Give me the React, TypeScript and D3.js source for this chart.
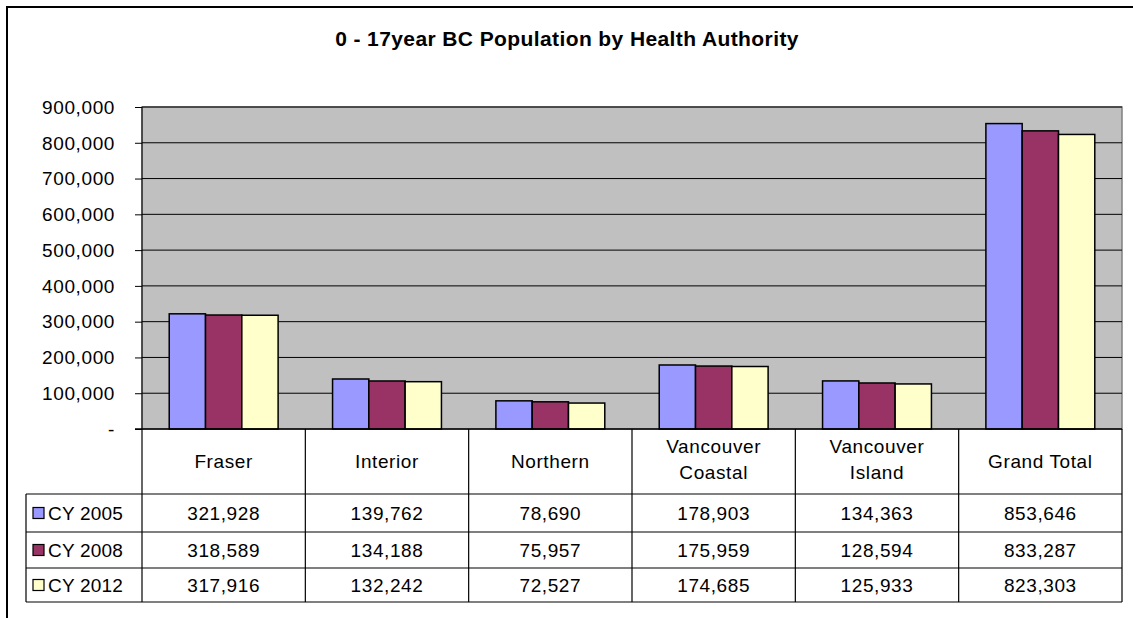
import { useEffect, useRef } from "react";
import * as d3 from "d3";

const categories = ["Fraser", "Interior", "Northern", "Vancouver Coastal", "Vancouver Island", "Grand Total"];
const categoryLines = [["Fraser"], ["Interior"], ["Northern"], ["Vancouver", "Coastal"], ["Vancouver", "Island"], ["Grand Total"]];
const seriesNames = ["CY 2005", "CY 2008", "CY 2012"];
const cy2005 = [321928, 139762, 78690, 178903, 134363, 853646];
const cy2008 = [318589, 134188, 75957, 175959, 128594, 833287];
const cy2012 = [317916, 132242, 72527, 174685, 125933, 823303];
const yTicks = [0, 100000, 200000, 300000, 400000, 500000, 600000, 700000, 800000, 900000];
const colors = ["#9999FF", "#993366", "#FFFFCC"];

const drawChart = (svgEl: SVGSVGElement) => {
  const width = 1133;
  const height = 618;
  const marginLeft = 142;
  const marginRight = 11;
  const plotTop = 107;
  const plotBottom = 429;
  const headerBottom = 494;
  const rowBottoms = [532, 568, 602];
  const tableLeft = 26;
  const font = "'Liberation Sans', Arial, sans-serif";
  const fs = 19;
  const ls = 0.6;
  const series = [cy2005, cy2008, cy2012];

  const svg = d3.select(svgEl);
  svg.selectAll("*").remove();
  svg.attr("width", width).attr("height", height).attr("viewBox", [0, 0, width, height]);

  svg.append("rect").attr("width", width).attr("height", height).attr("fill", "#fff");

  // outer frame (right and bottom edges fall outside the picture)
  svg.append("rect")
    .attr("x", 7).attr("y", 7)
    .attr("width", width + 20).attr("height", height + 20)
    .attr("fill", "none").attr("stroke", "#000").attr("stroke-width", 2);

  svg.append("text")
    .attr("x", 567).attr("y", 46)
    .attr("text-anchor", "middle")
    .attr("font-family", font).attr("font-weight", "bold")
    .attr("font-size", 21).attr("letter-spacing", 0.4)
    .text("0 - 17year BC Population by Health Authority");

  const x = d3.scaleBand()
    .domain(categories)
    .range([marginLeft, width - marginRight]);

  const xs = d3.scaleBand()
    .domain(seriesNames)
    .range([0, x.bandwidth()])
    .paddingOuter(0.75)
    .paddingInner(0);

  const y = d3.scaleLinear()
    .domain([0, 900000])
    .range([plotBottom, plotTop]);

  // plot area
  svg.append("rect")
    .attr("x", marginLeft).attr("y", plotTop)
    .attr("width", width - marginRight - marginLeft).attr("height", plotBottom - plotTop)
    .attr("fill", "#C0C0C0").attr("stroke", "#808080").attr("stroke-width", 1.5);

  // gridlines
  svg.append("g")
    .selectAll("line")
    .data(yTicks.filter((t) => t > 0))
    .join("line")
    .attr("x1", marginLeft).attr("x2", width - marginRight)
    .attr("y1", (d) => y(d)).attr("y2", (d) => y(d))
    .attr("stroke", "#000").attr("stroke-width", 1);

  // y axis
  svg.append("g")
    .attr("transform", `translate(${marginLeft}, 0)`)
    .call(d3.axisLeft(y).tickValues(yTicks).tickSize(7).tickPadding(20)
      .tickFormat((d) => (+d === 0 ? "-" : d3.format(",")(+d))))
    .call((g) => g.select(".domain").attr("d", `M0,${plotTop}V${plotBottom}`))
    .call((g) => g.selectAll("line").attr("stroke", "#000"))
    .call((g) => g.selectAll("text")
      .attr("font-family", font).attr("font-size", fs)
      .attr("letter-spacing", ls).attr("fill", "#000").attr("dy", "0.33em"));

  // bars
  svg.append("g")
    .selectAll("g")
    .data(series)
    .join("g")
    .attr("fill", (_, i) => colors[i])
    .selectAll("rect")
    .data((vals, si) => vals.map((v, ci) => ({ v, c: categories[ci], s: seriesNames[si] })))
    .join("rect")
    .attr("x", (d) => (x(d.c) as number) + (xs(d.s) as number))
    .attr("y", (d) => y(d.v))
    .attr("width", xs.bandwidth())
    .attr("height", (d) => y(0) - y(d.v))
    .attr("stroke", "#000").attr("stroke-width", 1.5);

  // x axis line
  svg.append("line")
    .attr("x1", marginLeft - 7).attr("x2", width - marginRight)
    .attr("y1", plotBottom).attr("y2", plotBottom)
    .attr("stroke", "#000").attr("stroke-width", 1.5);

  // data table
  const table = svg.append("g").attr("stroke", "#000").attr("stroke-width", 1.2);
  const bounds = categories.map((c) => x(c) as number).concat([width - marginRight]);
  table.selectAll("line.v")
    .data(bounds)
    .join("line")
    .attr("x1", (d) => d).attr("x2", (d) => d)
    .attr("y1", plotBottom).attr("y2", rowBottoms[2]);
  table.append("line")
    .attr("x1", tableLeft).attr("x2", tableLeft)
    .attr("y1", headerBottom).attr("y2", rowBottoms[2]);
  table.selectAll("line.h")
    .data([headerBottom, ...rowBottoms])
    .join("line")
    .attr("x1", tableLeft).attr("x2", width - marginRight)
    .attr("y1", (d) => d).attr("y2", (d) => d);

  // header labels
  svg.append("g")
    .selectAll("text")
    .data(categoryLines)
    .join("text")
    .attr("x", (_, i) => (x(categories[i]) as number) + x.bandwidth() / 2)
    .attr("y", (d) => (d.length === 1 ? 468 : 453))
    .attr("text-anchor", "middle")
    .attr("font-family", font).attr("font-size", fs).attr("letter-spacing", ls)
    .selectAll("tspan")
    .data((d) => d)
    .join("tspan")
    .attr("x", function () { return (this.parentNode as SVGTextElement).getAttribute("x"); })
    .attr("dy", (_, i) => (i === 0 ? 0 : 26))
    .text((d) => d);

  // rows
  const rowTops = [headerBottom, rowBottoms[0], rowBottoms[1]];
  series.forEach((vals, si) => {
    const mid = (rowTops[si] + rowBottoms[si]) / 2;
    const row = svg.append("g");
    row.append("rect")
      .attr("x", 33).attr("y", mid - 5.5)
      .attr("width", 11).attr("height", 11)
      .attr("fill", colors[si]).attr("stroke", "#000").attr("stroke-width", 1.2);
    row.append("text")
      .attr("x", 48).attr("y", mid + 6.5)
      .attr("font-family", font).attr("font-size", fs).attr("letter-spacing", 0.2)
      .text(seriesNames[si]);
    row.selectAll("text.v")
      .data(vals)
      .join("text")
      .attr("x", (_, i) => (x(categories[i]) as number) + x.bandwidth() / 2)
      .attr("y", mid + 6.5)
      .attr("text-anchor", "middle")
      .attr("font-family", font).attr("font-size", fs).attr("letter-spacing", ls)
      .text((d) => d3.format(",")(d));
  });
};

export default function App() {
  const ref = useRef<SVGSVGElement>(null);
  useEffect(() => {
    if (ref.current) drawChart(ref.current);
  }, []);
  return <svg ref={ref} style={{ position: "absolute", left: 0, top: 0 }} />;
}
